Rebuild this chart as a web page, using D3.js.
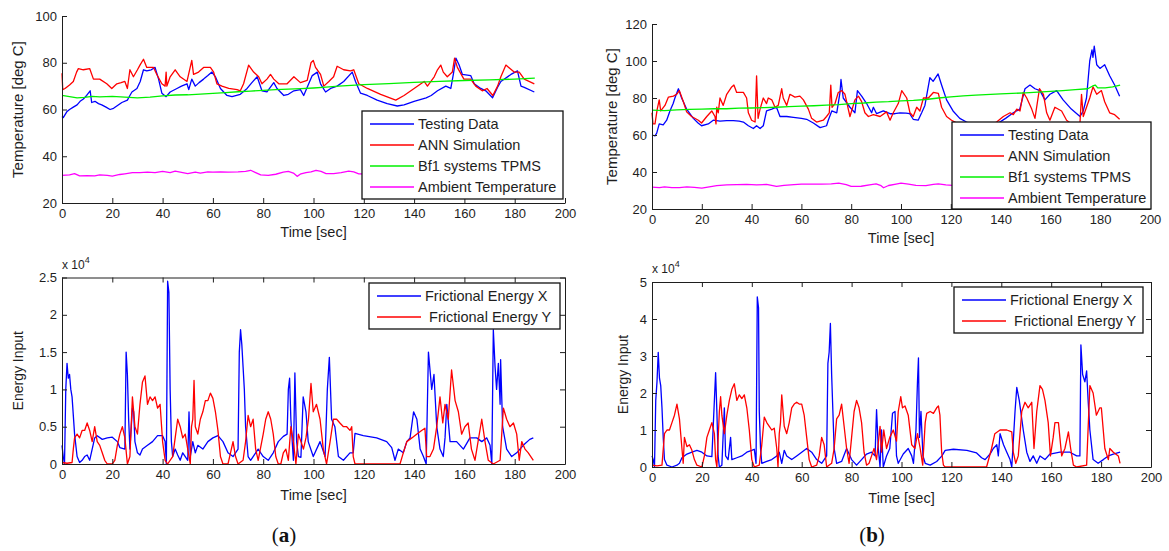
<!DOCTYPE html>
<html><head><meta charset="utf-8">
<script src="https://cdn.jsdelivr.net/npm/d3@7"></script>
<style>
body{margin:0;background:#fff;}
svg{display:block;}
</style></head><body>
<svg id="fig" width="1169" height="551"></svg>
<script>
// ---- shared tick values and legend entries ----
const timeTicks = [0,20,40,60,80,100,120,140,160,180,200];
const tempTicksA = [20,40,60,80,100];
const tempTicksB = [20,40,60,80,100,120];
const energyTicksA = [0,5000,10000,15000,20000,25000];
const energyTicksB = [0,10000,20000,30000,40000,50000];
const tempLegend = ["Testing Data","ANN Simulation","Bf1 systems TPMS","Ambient Temperature"];
const energyLegend = ["Frictional Energy X"," Frictional Energy Y"];

// ---- (a) temperatures [time s, deg C] ----
const testingA = [[0,57],[0.5,56.5],[1.9,59],[3,60],[4.5,61],[6,62],[7.2,63.5],[8.5,64.5],[9.8,66],[11.2,68],[11.8,63],[13.1,63.5],[14.5,62.5],[15.8,62],[17.5,61],[19.1,60],[20.5,60.5],[21.8,61.5],[23.8,63],[26,64],[27,66],[27.8,67.5],[29.8,69],[31.1,72],[32.4,77],[33.7,76.5],[35.5,77],[37,78],[38.4,73],[39.7,67],[41.4,65.5],[43,67.5],[45.7,69],[47.5,70],[49.7,71],[50.4,68.5],[51.6,73],[53,70],[54.5,71.5],[56.3,73],[58,74.5],[59.6,76],[61,74],[63,69],[65.6,66],[67.6,65.5],[70.9,66.5],[73.6,69],[75.5,71.5],[77.6,74],[79.5,68],[81.5,67.5],[84.2,71.5],[85.5,69],[88.2,66],[90,66.5],[92.2,68],[94.8,68.5],[96.1,66],[98.1,71],[99.5,74.5],[101.5,76],[102.8,71],[104.8,67.5],[106.8,69],[109.4,70],[112,72],[115.4,76],[116.7,72],[118.7,67],[121.4,66],[125.3,64],[129.3,62.5],[133.3,61.5],[136,62],[140,63.5],[144.8,65],[146.8,66],[149.3,68],[152.6,70],[154.6,69],[155.6,75],[156.6,82],[157.9,79],[159.2,75],[162.5,74.5],[163.9,71],[166.5,69],[168.5,68],[171.2,65],[173.2,69.5],[174.5,72],[178.5,75],[181.1,76.5],[182.5,70],[183.8,69.5],[187.8,67.5]];
const annA = [[0,75.5],[0.3,68.5],[1.2,69],[3,70.5],[4.5,72],[5.8,76],[6.5,77.5],[8.5,77],[11,77.5],[12.5,73],[15,73],[17.8,71],[19.8,69],[21.8,71],[23.5,71.5],[25,72],[26,69],[27,77],[28.4,74],[30,77],[31,79],[32.4,81.5],[33.7,78],[36.4,78],[37.7,75],[39.7,71],[41,70],[41.4,76],[41.7,70],[43,74],[45,77],[47,74],[49.7,72],[51.6,81],[52.3,75],[54.3,76],[56.3,78],[59,78],[60.3,76],[61.6,71],[63.6,70],[66.3,69],[69.6,68.5],[70.9,68],[72.2,71],[74.2,79],[76.2,76],[78.2,74],[79.5,71],[81.5,73],[82.9,75],[84.2,73],[86.2,71],[89.5,71],[92.2,74],[94.8,71.5],[97.5,72.5],[99,80],[99.9,81],[100.8,78],[101.5,77],[102.8,75],[104.1,70],[106.1,72],[108,74],[109.4,78.5],[112,77],[114.7,76.5],[116,77],[118,71],[121.4,69],[126.7,66.5],[132.7,64],[136,66],[140,69],[144,72],[145.3,70],[148,74],[149.3,77],[150.6,79],[151.6,76],[153.2,74],[155.2,76],[156.1,82],[157.2,78],[159.8,73],[162.5,73],[164.5,70],[167.1,68],[169,69],[171.3,66],[173.2,70],[174.5,74],[176.5,79],[179.8,76],[181.8,76],[183.8,73],[187.8,71]];
const tpmsA = [[0,66],[3,65.5],[6,65],[9,65.2],[12,65.6],[15,65.4],[20,65.6],[25,65.3],[30,65],[35,65.3],[40,65.8],[45,66.2],[50,66.3],[55,66.6],[60,66.9],[65,67.2],[70,67.6],[75,67.9],[80,68.2],[85,68.5],[90,68.7],[95,68.9],[100,69.2],[105,69.6],[110,70],[115,70.3],[120,70.6],[130,71.1],[140,71.6],[150,72],[160,72.4],[170,72.7],[180,73],[188,73.4]];
const ambientA = [[0,31.8],[3,32],[5,32.6],[7,31.6],[10,31.7],[13,31.6],[15,32],[18,31.8],[20,31.5],[23,32.2],[25,32.5],[28,33],[31,33],[34,33.2],[37,33],[40,33.5],[43,33],[45,33.6],[48,33],[50,32.6],[53,33.2],[55,32.8],[58,33.3],[60,33.2],[63,33.3],[66,33.2],[70,33.3],[73,33.5],[75,34],[77,33],[79,32],[82,31.8],[85,32.3],[88,33.2],[90,33.5],[92,32.8],[93.5,31.4],[95,32.5],[97,33],[99,33.3],[101,34],[103,33.5],[105,32.6],[108,32.6],[111,33],[114,33.6],[116,33.3],[118,32.5],[121,32.4],[125,33],[130,32.8],[135,33.2],[140,32.7],[145,33.1],[150,33],[155,32.6],[160,33.3],[165,33],[170,32.8],[175,33.2],[180,32.9],[188,33]];

// ---- (b) temperatures [time s, deg C] ----
const testingB = [[0,60],[1.2,59.5],[1.9,61],[2.9,66],[4.5,65.5],[5.9,68],[7.2,73],[8.5,77],[9.2,80],[10.6,85],[11.9,80],[13.9,74],[16.6,69],[18.5,66.5],[19.9,65],[22.6,66],[24.6,68],[27.3,67.5],[30,67.8],[32.7,67.8],[35,67.5],[36.7,67],[38.7,65],[40.7,63.5],[42,65],[43.4,63.5],[44.7,65],[46,73],[48.1,74],[50,75],[51.4,70],[54.1,70],[56.8,69.5],[60,69],[62.1,68.5],[64.8,66.5],[67.5,64],[70.1,65],[70.8,68],[72.2,73],[74.2,72],[75.5,83],[75.9,90],[76.8,80],[79.5,75],[81.5,72],[82.5,84],[84.2,81],[86.2,77],[88.2,72],[88.9,75],[90.2,71.5],[92.9,73],[95.6,71.5],[97.5,71.5],[99.6,72],[102,71.8],[103.5,71.5],[104.9,68.5],[106.9,68],[108.3,72],[109.6,76],[111.6,91],[112.9,89],[114.9,93],[116.3,87],[118.3,79],[120.9,73],[123.6,69],[126.3,67],[129,65.5],[133,64.5],[138,65.5],[142,69],[145.1,72],[147.7,74],[149.8,85],[151.8,87],[153.8,85],[155.8,84],[157.8,79],[159.8,82],[162.5,84],[165.1,79],[168.4,74],[171.9,70],[173.2,73],[174.5,80],[175.8,100],[176.7,106],[177.1,102],[177.6,108],[178.6,98],[179.9,96],[181.8,98],[183.8,92],[185.8,87],[187.8,81]];
const annB = [[0,72],[0.4,66],[1.2,66],[2.1,74],[2.9,79],[3.5,73],[5.2,76],[6.6,80.5],[8.6,81],[9.9,82],[11,84],[12.6,78],[13.9,72.5],[15.9,70],[18.6,68],[19.9,66.5],[22,70],[24,73],[25.3,70],[25.7,66],[26,75],[26.6,72],[27.3,80],[28.6,76],[30,82],[32,86],[32.9,87],[34,83],[36.7,83],[38,80],[38.7,72],[40,68],[41.4,67],[42,92],[42.6,69],[43.4,74],[44.7,80],[46,77],[46.7,80],[48.1,79],[49.4,75],[50.7,76],[52.1,85],[52.7,80],[54.1,76],[55.4,82],[57.4,80.5],[59.4,81],[60.8,79],[62.8,74],[64.1,69],[66.1,67],[68.8,68],[70.1,70],[71.2,72],[71.8,87],[72.3,75],[73.5,77],[74.8,83],[76.2,84],[77.5,82],[79.5,70],[81.5,79],[82.9,81],[84.2,78],[85.5,72],[86.9,70],[88.9,71],[91.6,70],[94.2,72.5],[95.6,68],[96.9,72],[98.9,77],[100.3,84],[102.3,80],[103.6,72],[104.9,70],[106.3,75],[107.6,73],[109,80],[111,80],[113,83],[115,82.5],[116.3,75],[118.3,70],[120.3,68],[123,66],[128,64.5],[133,64],[136,65.5],[138.4,67],[141.1,70],[143.8,72],[145.1,71],[146.5,74],[147.8,73],[149.1,83],[150.5,80],[152.5,74],[153.8,69],[155.6,85],[157.2,82],[158.5,72],[159.8,68],[161.8,75],[164.5,73],[166.5,68],[168.5,66],[170.5,65],[171.9,67],[172.5,82],[173.2,70],[174.5,75],[175.8,80],[177.1,86],[178.6,82],[180.5,84],[181.8,78],[183.8,72],[185.8,71],[187.8,68.5]];
const tpmsB = [[0,73.5],[5,73.2],[10,73.6],[15,73.8],[20,74],[25,74.2],[30,74.2],[35,74.5],[40,74.6],[45,74.8],[50,75],[55,75.3],[60,75.6],[65,75.8],[70,76.1],[75,76.4],[80,77],[85,77.3],[90,77.8],[95,78],[100,78.4],[105,78.7],[110,79.2],[115,80],[120,80.6],[125,81.2],[130,81.6],[140,82.2],[150,82.8],[160,83.6],[165,84],[170,84.5],[175,85],[177,86.5],[178,87],[179,85.5],[182,85.5],[185,86],[188,87]];
const ambientB = [[0,31.8],[3,31.6],[5,32],[8,31.5],[11,31.6],[14,32],[17,31.7],[20,31.3],[23,32],[26,32.6],[30,33],[34,33.2],[38,33.3],[42,33],[46,33.3],[50,32.2],[53,32.8],[57,33.2],[60,33.5],[64,33.4],[68,33.4],[72,33.6],[75,34],[78,33.2],[80,32.2],[84,32.3],[88,33.2],[90,33.6],[92,32.6],[93,31.5],[95,32.7],[98,33.5],[100,34],[103,33.4],[106,32.8],[110,32.6],[113,33.3],[115,33.6],[118,33],[122,32.6],[128,32.8],[135,33.2],[145,33],[155,32.8],[165,33.2],[175,33],[188,33.1]];

// ---- (a) frictional energy [time s, energy] ----
const energyXA = [[0,2500],[0.5,1000],[1,0],[1.5,10000],[2,13500],[2.5,11500],[3,12000],[3.5,10000],[4,9000],[5,4000],[6,1000],[7,200],[8,500],[9,1000],[10,1200],[11,500],[12,2000],[13,3500],[14,3800],[16,3300],[18,3500],[20,3600],[22,3000],[23,2200],[25,2000],[25.5,15000],[26,12000],[26.5,6000],[27,2000],[28,7500],[28.5,7000],[29,3000],[30,1500],[31,1200],[32,2000],[34,2500],[36,3000],[38,3800],[40,3800],[41,3000],[41.5,0],[42,24500],[42.5,23000],[43,10000],[43.5,3000],[44,1000],[45,2000],[46,1200],[47,500],[48,1500],[49,1000],[50,500],[50.5,7000],[51,1000],[52,3000],[53,1500],[54,2500],[56,2000],[58,3000],[60,3500],[62,3800],[64,3000],[66,1500],[68,1000],[70,2000],[70.5,15000],[71,18000],[71.5,16000],[72,13000],[72.5,10000],[73,5000],[74,1000],[75,500],[76,1000],[78,2000],[80,1000],[82,500],[84,1500],[86,3000],[88,3700],[89.5,4000],[90,10000],[90.5,11500],[91,6000],[92,500],[92.6,12200],[93.3,3000],[94,1000],[95,900],[95.9,9000],[97,7000],[97.9,3000],[99.9,1000],[102.6,3000],[104.6,1000],[105.5,10000],[106.3,14300],[107.2,6000],[108.5,5000],[109.9,1000],[111.9,500],[114.5,1500],[115.8,1500],[116.5,4100],[119.8,3800],[125.1,3500],[129.1,3000],[131.1,2200],[132.4,500],[133.7,2000],[135.7,1500],[137.1,3000],[138.4,3500],[139.8,7000],[141.1,6000],[142.4,2000],[143.7,1000],[144.8,0],[145.7,15000],[147,10000],[147.9,12000],[149,5000],[150.3,2000],[151.6,1000],[152.3,3500],[153,8000],[154.3,3000],[156.9,3000],[159.6,2000],[162.2,3500],[164.9,3500],[166.9,3000],[168.9,3500],[170.2,2500],[170.9,0],[171.5,18000],[172.2,13000],[172.8,10000],[173.5,13500],[174.2,8000],[174.4,14000],[175.2,5000],[176.8,2000],[178.8,1000],[180.8,1500],[182.1,2000],[183.4,2500],[186,3300],[187.4,3500]];
const energyYA = [[0,200],[2,100],[4,200],[4.5,2000],[5,3500],[6,4000],[7,3500],[8,4500],[9,4500],[10,5500],[11,4500],[12,3000],[13,5000],[14,3000],[15,2500],[16,1500],[17,500],[18,0],[20,0],[21,500],[22,2500],[23,4000],[24,5000],[25,3500],[26,0],[27,1000],[28,9000],[29,5000],[30,4000],[31,8000],[32,11000],[33,11800],[34,8000],[35,9000],[36,8500],[37,9000],[38,7500],[39,8000],[40,3000],[41,500],[42,0],[44,1000],[45,3500],[46,6000],[47,5000],[48,3500],[49,4000],[50,2000],[51,0],[51.5,5000],[52,6000],[52.5,11200],[53,5000],[54,4000],[55,6000],[56,7000],[57,8500],[58,8500],[59,9500],[60,8800],[61,7000],[62,4500],[63,1000],[64,0],[66,0],[67,1500],[68,3000],[69,1000],[70,0],[72,500],[73,3000],[74,6500],[75,5000],[76,6000],[77,2000],[78,500],[80,4000],[81,6000],[82,7000],[83,6000],[84,4000],[85,1000],[86,0],[87,0],[88,1500],[89,2000],[90,500],[91,5000],[92,3000],[93,0],[94,4000],[95,3000],[96,2000],[97,3500],[98,6000],[99,10800],[99.9,7000],[101.2,8000],[102.6,6000],[103.9,2000],[105.2,0],[106.6,3000],[107.9,6000],[109.2,6000],[110.5,5500],[111.9,5000],[113.2,5000],[114.5,4500],[115.2,5000],[115.8,1000],[116.5,0],[134.4,0],[135.7,1500],[137.1,3000],[139.1,3500],[141,4000],[143,4500],[144.3,4800],[145,1000],[146.3,1000],[147.7,2000],[149,5000],[150.3,9000],[151.4,5500],[152.3,8000],[153.6,6000],[154.9,12600],[156.3,8500],[157.6,7000],[158.9,4000],[160.2,5000],[161.5,5500],[162.8,2000],[164.2,500],[166.9,6000],[168.2,3000],[169.5,500],[171.5,0],[174.2,500],[175.5,7500],[176.8,6000],[178.1,5000],[179.5,5500],[180.8,4000],[181.8,500],[182.8,3000],[184.1,2000],[185.4,1500],[187.4,500]];

// ---- (b) frictional energy [time s, energy] ----
const energyXB = [[0,3000],[0.5,2000],[1,0],[1.5,18000],[2,23000],[2.5,31000],[3,24000],[3.5,22000],[4,16000],[4.5,8000],[5,2000],[6,500],[8,0],[10,500],[11,1000],[12,2500],[14,3500],[16,4000],[18,4500],[20,4000],[22,3000],[24,2800],[25.5,25500],[26,15000],[26.5,3000],[27,0],[28,500],[29,16000],[29.5,3000],[30.5,2000],[31.5,8000],[32,2000],[34,2500],[36,3000],[38,4000],[40,4500],[41,4800],[41.7,1000],[42.2,46000],[42.7,43000],[43,15000],[43.5,5000],[44,1000],[46,1500],[48,2000],[50,3000],[51,4000],[52,1000],[53,4500],[54,3000],[56,2000],[58,3000],[60,4000],[62,5000],[64,4000],[66,2000],[68,1000],[70,3000],[70.5,28000],[71,31000],[71.5,38800],[72,25000],[72.5,15000],[73,5000],[74,1000],[76,1500],[78,5000],[80,2000],[82,500],[84,2000],[86,3500],[88,4000],[89.4,3000],[90,15500],[90.7,5000],[91.4,0],[92,10000],[92.7,0],[94,3000],[95.3,5000],[96.4,14500],[97.4,15000],[98,3000],[98.7,1000],[100.7,3500],[102.7,5000],[104.1,3000],[104.8,1000],[105.8,10000],[106.4,23000],[106.8,29500],[107.2,8000],[107.8,15000],[108.6,3000],[109.5,1000],[111.5,500],[114.1,1500],[116.2,3000],[117.5,4500],[120.8,4800],[126.2,4500],[130.1,3800],[132.1,2500],[133.5,2000],[135.5,3500],[136.8,5000],[138.2,6000],[138.8,3000],[139.5,9000],[140.9,6000],[142.2,4000],[143.5,2000],[144.2,0],[145.5,15000],[146.2,21500],[147.2,18000],[148.8,10000],[150.2,4000],[151.5,1500],[152.8,3000],[154.2,1000],[155.5,3000],[157.5,2000],[159.5,3500],[163.5,4000],[167.5,4000],[170.2,3000],[171.5,3000],[171.9,33000],[172.6,25000],[173.5,23000],[174.2,26000],[174.8,18000],[175.5,10000],[176.8,2000],[178.8,1000],[180.9,2000],[182.9,3000],[184.9,3500],[187.6,4000]];
const energyYB = [[0,500],[2,300],[4,500],[5,9000],[6,10000],[7,10000],[8,12000],[9,14000],[10,17000],[11,13000],[12,5000],[12.5,1000],[13,8000],[14,5500],[15,6000],[16,4500],[17,2000],[18,500],[20,0],[21,3000],[22,8000],[23,10000],[24,12000],[25,9000],[25.5,2000],[26,0],[27,15000],[27.5,19000],[28,14000],[29,9000],[30,14000],[31,18000],[32,21000],[33,22500],[34,18000],[35,19500],[36,18500],[37,19500],[38,16000],[39,10000],[40,2000],[41,0],[43,500],[44,6000],[45,13500],[46,12000],[47,11000],[48,10000],[49,10500],[50,5000],[50.5,0],[51,9000],[51.5,12000],[52,19500],[53,11000],[54,9000],[55,12000],[56,16000],[57,17000],[58,17500],[59,17000],[60,17000],[61,14000],[62,8000],[63,2000],[64,0],[66,500],[67,3000],[68,8000],[69,6000],[70,0],[72,1000],[73,5000],[74,13000],[75,14000],[76,17000],[77,11000],[78,5000],[79,1000],[80,8000],[81,15000],[82,18000],[83,16000],[84,12000],[85,4000],[86,500],[87,1000],[88,3000],[89,5000],[90,2000],[91.4,11000],[92,4000],[92.9,10000],[94,5000],[95.3,8000],[96.7,10000],[98,7000],[98.7,15000],[99.7,19000],[100.4,16000],[101.4,16500],[102.7,14000],[104.1,6000],[105.4,5000],[106.4,9000],[107.5,5000],[108.5,500],[109.5,12000],[110.1,14500],[111.5,15000],[112.8,14500],[114.1,16000],[114.8,16500],[115.4,14000],[116.1,4000],[116.8,500],[117.5,0],[134.1,0],[136.1,5000],[137.4,9000],[139.5,10000],[142.2,10000],[144.2,9500],[144.8,4000],[145.8,1000],[146.8,3000],[148.2,15000],[149.5,17500],[150.8,16000],[152.2,17500],[153.1,5000],[154.2,15000],[155.5,22000],[156.5,21000],[157.5,18000],[158.8,12000],[159.7,3000],[160.8,8000],[161.5,12000],[162.9,12000],[164.2,3000],[165.5,5000],[166.9,9500],[167.8,5000],[168.9,500],[170.2,0],[174.2,500],[175.5,22000],[176.8,20000],[178.1,14000],[179.5,16000],[180.1,16000],[181.5,5000],[182.9,2000],[183.5,5000],[184.9,4000],[186.9,3000],[187.6,1000]];

// ---- drawing ----
const FONT = '"Liberation Sans", Arial, Helvetica, sans-serif';
const INK = "#1e1e1e";
const COL = {blue:"#0000ff", red:"#ff0000", green:"#00f000", magenta:"#ff00ff"};
const svg = d3.select("#fig");

function styleAxis(g, size) {
  g.attr("font-family", FONT).attr("font-size", size);
  g.selectAll("path.domain").attr("stroke", INK).attr("stroke-width", 1);
  g.selectAll(".tick line").attr("stroke", INK).attr("stroke-width", 1);
  g.selectAll(".tick text").attr("fill", INK);
}

function drawPanel(p) {
  const x = d3.scaleLinear().domain([0, 200]).range([p.left, p.right]);
  const y = d3.scaleLinear().domain(p.yDomain).range([p.bottom, p.top]);
  const g = svg.append("g");

  // data lines
  const line = d3.line().x(d => x(d[0])).y(d => y(d[1]));
  p.series.forEach(s => {
    g.append("path").datum(s.data)
      .attr("fill", "none").attr("stroke", s.color)
      .attr("stroke-width", 1.3).attr("stroke-linejoin", "round")
      .attr("d", line);
  });

  // axes with inward ticks
  const xa = g.append("g").attr("transform", `translate(0,${p.bottom})`)
    .call(d3.axisBottom(x).tickValues(timeTicks).tickSizeInner(-5).tickSizeOuter(0).tickPadding(6).tickFormat(d3.format("d")));
  styleAxis(xa, 13);
  const ya = g.append("g").attr("transform", `translate(${p.left},0)`)
    .call(d3.axisLeft(y).tickValues(p.yTicks).tickSizeInner(-5).tickSizeOuter(0).tickPadding(5).tickFormat(p.yFmt));
  styleAxis(ya, 13);
  if (p.box) {
    const ta = g.append("g").attr("transform", `translate(0,${p.top})`)
      .call(d3.axisTop(x).tickValues(timeTicks).tickSizeInner(-5).tickSizeOuter(0).tickFormat(""));
    styleAxis(ta, 13);
    const ra = g.append("g").attr("transform", `translate(${p.right},0)`)
      .call(d3.axisRight(y).tickValues(p.yTicks).tickSizeInner(-5).tickSizeOuter(0).tickFormat(""));
    styleAxis(ra, 13);
  }

  // axis titles
  g.append("text").attr("x", (p.left + p.right) / 2).attr("y", p.xTitleY)
    .attr("text-anchor", "middle").attr("font-family", FONT).attr("font-size", 14.5).attr("fill", INK)
    .text("Time [sec]");
  g.append("text")
    .attr("transform", `translate(${p.yTitleX},${(p.top + p.bottom) / 2}) rotate(-90)`)
    .attr("text-anchor", "middle").attr("font-family", FONT).attr("font-size", p.yTitleSize).attr("fill", INK)
    .text(p.yTitle);

  if (p.exponent) {
    const t = g.append("text").attr("x", p.left).attr("y", p.top - 9)
      .attr("font-family", FONT).attr("font-size", 12).attr("fill", INK);
    t.append("tspan").text("x 10");
    t.append("tspan").attr("dy", -6).attr("font-size", 9).text("4");
  }

  // legend
  const L = p.legend;
  const lg = g.append("g");
  lg.append("rect").attr("x", L.x).attr("y", L.y).attr("width", L.w).attr("height", L.h)
    .attr("fill", "#fff").attr("stroke", "#111").attr("stroke-width", 1.3);
  L.items.forEach((label, i) => {
    const yy = L.y + L.first + i * L.step;
    lg.append("line").attr("x1", L.x + 8).attr("x2", L.x + 52).attr("y1", yy).attr("y2", yy)
      .attr("stroke", p.series[i].color).attr("stroke-width", 1.3);
    lg.append("text").attr("x", L.x + 56).attr("y", yy).attr("dy", "0.35em")
      .attr("font-family", FONT).attr("font-size", 14.5).attr("fill", INK)
      .attr("xml:space", "preserve").style("white-space", "pre")
      .text(label);
  });
}

const fmtTemp = d3.format("d");
const fmtE = d => String(d / 10000);

drawPanel({
  left: 62, right: 565, top: 16, bottom: 203, yDomain: [20, 100], yTicks: tempTicksA, yFmt: fmtTemp,
  box: false, xTitleY: 237, yTitleX: 23, yTitleSize: 15, yTitle: "Temperature [deg C]",
  series: [{data: testingA, color: COL.blue}, {data: annA, color: COL.red}, {data: tpmsA, color: COL.green}, {data: ambientA, color: COL.magenta}],
  legend: {x: 362, y: 111, w: 201, h: 88, first: 13, step: 21, items: tempLegend}
});
drawPanel({
  left: 652, right: 1150, top: 24, bottom: 209, yDomain: [20, 120], yTicks: tempTicksB, yFmt: fmtTemp,
  box: false, xTitleY: 243, yTitleX: 617, yTitleSize: 15, yTitle: "Temperature [deg C]",
  series: [{data: testingB, color: COL.blue}, {data: annB, color: COL.red}, {data: tpmsB, color: COL.green}, {data: ambientB, color: COL.magenta}],
  legend: {x: 952, y: 122, w: 199, h: 87, first: 13, step: 21, items: tempLegend}
});
drawPanel({
  left: 62, right: 565, top: 277.5, bottom: 464, yDomain: [0, 25000], yTicks: energyTicksA, yFmt: fmtE,
  box: true, xTitleY: 500, yTitleX: 23, yTitleSize: 14, yTitle: "Energy Input", exponent: true,
  series: [{data: energyXA, color: COL.blue}, {data: energyYA, color: COL.red}],
  legend: {x: 369, y: 283, w: 191, h: 46, first: 13, step: 21, items: energyLegend}
});
drawPanel({
  left: 652, right: 1151, top: 282, bottom: 467, yDomain: [0, 50000], yTicks: energyTicksB, yFmt: fmtE,
  box: true, xTitleY: 503, yTitleX: 628, yTitleSize: 14, yTitle: "Energy Input", exponent: true,
  series: [{data: energyXB, color: COL.blue}, {data: energyYB, color: COL.red}],
  legend: {x: 954, y: 287, w: 189, h: 46, first: 13, step: 21, items: energyLegend}
});

// sub-figure captions
[["a", 284], ["b", 872]].forEach(([c, cx]) => {
  const t = svg.append("text").attr("x", cx).attr("y", 542).attr("text-anchor", "middle")
    .attr("font-family", '"Liberation Serif", "DejaVu Serif", serif').attr("font-size", 21).attr("fill", "#111");
  t.append("tspan").text("(");
  t.append("tspan").attr("font-weight", "bold").text(c);
  t.append("tspan").text(")");
});
</script>
</body></html>
